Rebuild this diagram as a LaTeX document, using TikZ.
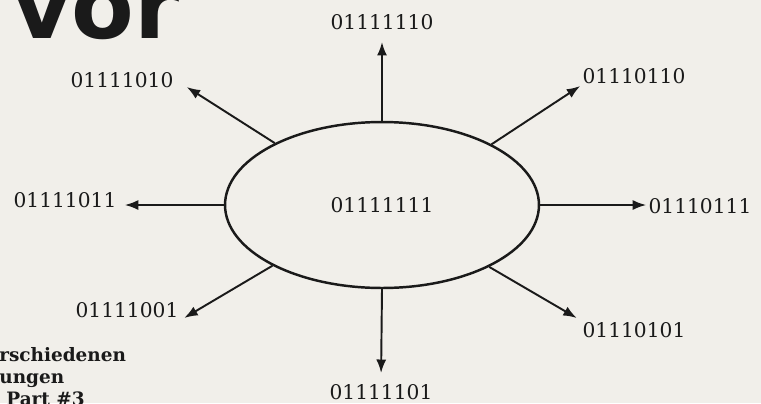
\documentclass[tikz,border=0pt]{standalone}
\usepackage{fontspec}
\setmainfont{Liberation Serif}
\newfontfamily\headfont{DejaVu Sans}
\newfontfamily\capfont{DejaVu Serif}
\usetikzlibrary{arrows.meta,shapes.geometric}
\definecolor{paper}{HTML}{F1EFEA}
\definecolor{ink}{HTML}{1A1A1A}
\tikzset{
  core/.style={draw=ink,fill=paper,ellipse,line width=1.4pt,
               inner sep=0pt,minimum width=6.28cm,minimum height=3.32cm,
               font=\capfont\fontsize{11.5}{13}\selectfont,text=ink},
  bitlbl/.style={inner sep=0.04cm,font=\capfont\fontsize{11.5}{13}\selectfont,text=ink},
  bitarr/.style={-{Latex[length=0.27cm,width=0.2cm]},line width=1.1pt,color=ink}
}
\begin{document}
\begin{tikzpicture}[x=0.02cm,y=-0.02cm]
  \fill[paper] (0,0) rectangle (761,403);
  \useasboundingbox (0,0) rectangle (761,403);

  % heading and caption, cut by the page edge
  \node[anchor=base west,inner sep=0pt,text=ink,
        font=\headfont\bfseries\fontsize{52}{52}\selectfont] (ttl) at (12,38) {vor};
  \node[anchor=base west,inner sep=0pt,align=left,text=ink,
        font=\capfont\bfseries\fontsize{10.5}{12.5}\selectfont] (cap) at (-1,405)
    {rschiedenen\\ungen\\\hspace*{4pt}Part \#3};

  \node[core] (ctr) at (382,205) {01111111};

  \node[bitlbl] (bN)  at (382,22)  {01111110};
  \node[bitlbl] (bNE) at (634,76)  {01110110};
  \node[bitlbl] (bE)  at (700,206) {01110111};
  \node[bitlbl] (bSE) at (634,330) {01110101};
  \node[bitlbl] (bS)  at (381,392) {01111101};
  \node[bitlbl] (bSW) at (127,310) {01111001};
  \node[bitlbl] (bW)  at (65,200)  {01111011};
  \node[bitlbl] (bNW) at (122,80)  {01111010};

  \foreach \a/\n/\p/\s in {90/bN/south/0.2cm,29/bNE/south west/0pt,
                           330/bSE/north west/0.08cm,270/bS/north/0.18cm,
                           209/bSW/south east/0.08cm,150/bNW/east/0.26cm} {
    \draw[bitarr,shorten >=\s] (ctr.\a) -- (\n.\p);
  }
  \draw[bitarr] (ctr.east) -- (bE.west |- ctr.east);
  \draw[bitarr,shorten >=0.12cm] (ctr.west) -- (bW.east |- ctr.west);
\end{tikzpicture}
\end{document}
